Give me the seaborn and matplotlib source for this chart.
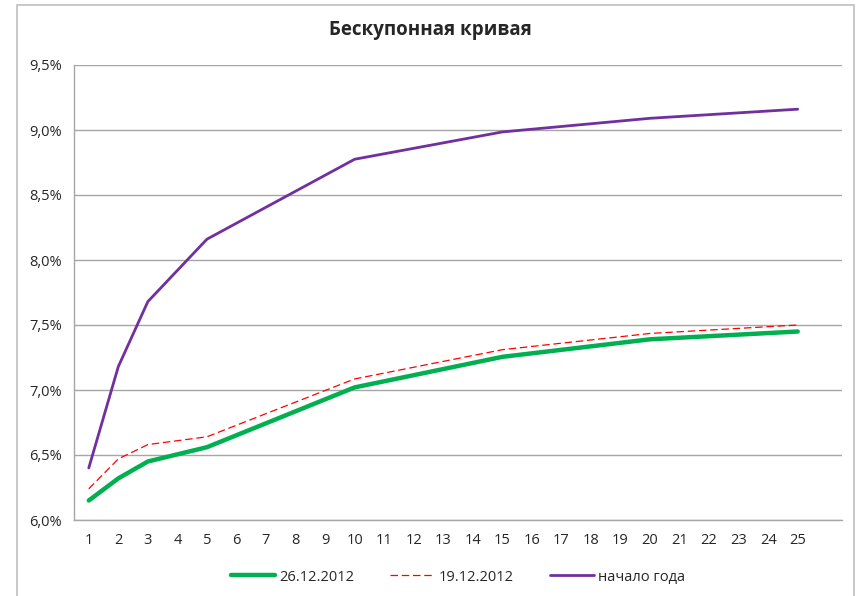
import numpy as np
import pandas as pd
import matplotlib
matplotlib.use("Agg")
import matplotlib.pyplot as plt
from matplotlib.patches import Rectangle
import seaborn as sns

sns.set_style("white")
plt.rcParams['font.family'] = ['Open Sans', 'DejaVu Sans']

# срок (лет) - узлы кривой
srok = [1, 2, 3, 5, 10, 15, 20, 25]
# доходности, %
d_26_12 = [6.15, 6.32, 6.45, 6.56, 7.02, 7.255, 7.39, 7.45]
d_19_12 = [6.24, 6.47, 6.58, 6.64, 7.085, 7.31, 7.435, 7.50]
nachalo = [6.40, 7.18, 7.68, 8.16, 8.775, 8.985, 9.09, 9.16]

x_labels = [str(i) for i in range(1, 26)]
y_ticks = [6.0, 6.5, 7.0, 7.5, 8.0, 8.5, 9.0, 9.5]

df = pd.DataFrame({'srok': srok, '26.12.2012': d_26_12,
                   '19.12.2012': d_19_12, 'начало года': nachalo})

fig = plt.figure(figsize=(8.6, 5.96), dpi=100)
ax = fig.add_axes([74/860, 1-520/596, 768/860, 455/596])

# рамка диаграммы
fig.patches.append(Rectangle((17/860, -0.01), (854-17)/860, 1-5/596+0.01,
                             transform=fig.transFigure, fill=False,
                             edgecolor='#BFBFBF', linewidth=1.2))

sns.lineplot(data=df, x='srok', y='26.12.2012', ax=ax, color='#00B050',
             linewidth=3.2, label='26.12.2012')
sns.lineplot(data=df, x='srok', y='19.12.2012', ax=ax, color='#FF0000',
             linewidth=0.9, dashes=(6, 3), label='19.12.2012')
sns.lineplot(data=df, x='srok', y='начало года', ax=ax, color='#7030A0',
             linewidth=2.0, label='начало года')

ax.set_xlim(0.5, 26.5)
ax.set_ylim(6.0, 9.5)
ax.set_yticks(y_ticks)
ax.set_yticklabels([('%.1f%%' % v).replace('.', ',') for v in y_ticks], fontsize=10.5)
ax.set_xticks(range(1, 26))
ax.set_xticklabels(x_labels, fontsize=10.5)
ax.set_xticks(np.arange(0.5, 27, 1), minor=True)
ax.tick_params(axis='x', which='major', length=0, pad=9)
ax.tick_params(axis='x', which='minor', length=5, color='#A6A6A6', direction='out')
ax.tick_params(axis='y', length=5, color='#A6A6A6', direction='out')
ax.set_xlabel('')
ax.set_ylabel('')
ax.grid(axis='y', color='#A6A6A6', linewidth=1)
ax.set_axisbelow(True)
for s in ['top', 'right']:
    ax.spines[s].set_visible(False)
for s in ['left', 'bottom']:
    ax.spines[s].set_color('#A6A6A6')
    ax.spines[s].set_linewidth(1)

ax.legend(loc='upper center', bbox_to_anchor=(0.5, -0.08), ncol=3, frameon=False,
          fontsize=10.5, handlelength=3, columnspacing=2.5, handletextpad=0.3)

fig.text(0.5, 1-30/596, 'Бескупонная кривая',
         ha='center', va='center', fontsize=13.5, fontweight='bold')

fig.savefig('out.png', dpi=100)
